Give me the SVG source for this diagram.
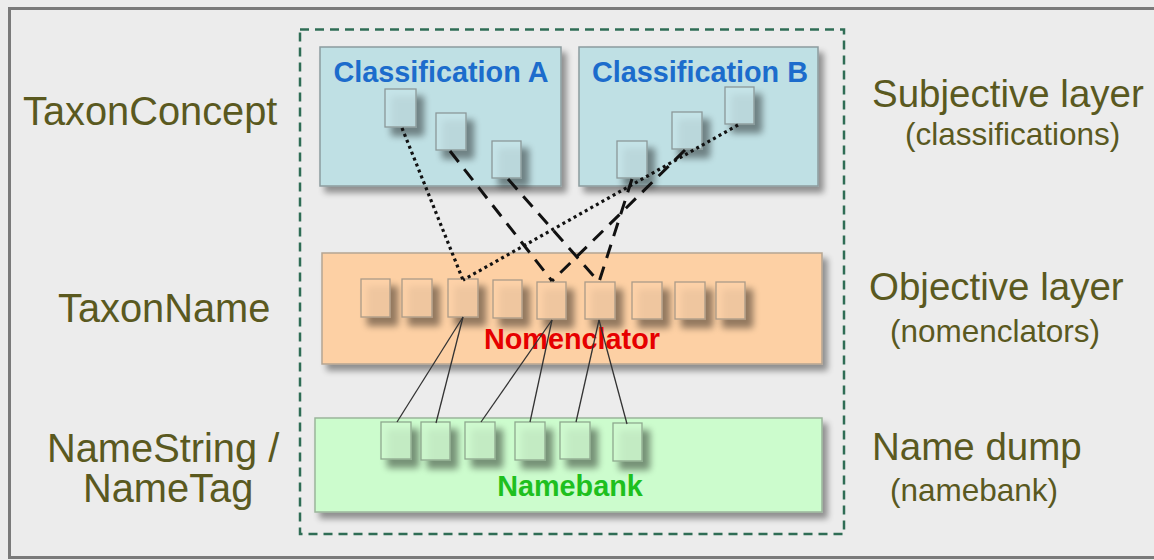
<svg xmlns="http://www.w3.org/2000/svg" width="1154" height="560" viewBox="0 0 1154 560">
<defs>
<style>
.lbl{font-family:"Liberation Sans",Arial,sans-serif;fill:#5a591f;font-size:38.5px}
.lft{font-size:39.8px}
.sub{font-family:"Liberation Sans",Arial,sans-serif;fill:#5a591f;font-size:31.5px}
.ttl{font-family:"Liberation Sans",Arial,sans-serif;font-weight:bold;font-size:28.8px;text-anchor:middle}
.cls{fill:#bfe0e4;stroke:#8c9c9e;stroke-width:1.5}
.nom{fill:#fdd0a4;stroke:#b5a592;stroke-width:1.5}
.nb{fill:#ccfccd;stroke:#9bb59b;stroke-width:1.5}
.sqc{fill:#c8e6ea;fill-opacity:0.7;stroke:#8b9899;stroke-width:1.3}
.sqn{fill:#fdd3aa;fill-opacity:0.7;stroke:#ab9a88;stroke-width:1.3}
.sqb{fill:#d0fad0;fill-opacity:0.7;stroke:#8fa98f;stroke-width:1.3}
.dot{fill:none;stroke:#111;stroke-width:3.2;stroke-dasharray:3 3.4}
.dash{fill:none;stroke:#111;stroke-width:3;stroke-dasharray:14 9}
.thin{fill:none;stroke:#333;stroke-width:1.3}
</style>
<filter id="sh" x="-10%" y="-10%" width="125%" height="135%">
<feGaussianBlur in="SourceAlpha" stdDeviation="3"/>
<feOffset dx="5" dy="6"/>
<feComponentTransfer><feFuncA type="linear" slope="0.4"/></feComponentTransfer>
<feMerge><feMergeNode/><feMergeNode in="SourceGraphic"/></feMerge>
</filter>
<filter id="shs" x="-30%" y="-30%" width="190%" height="180%">
<feGaussianBlur in="SourceAlpha" stdDeviation="3.5"/>
<feOffset dx="7" dy="8"/>
<feComponentTransfer><feFuncA type="linear" slope="0.6"/></feComponentTransfer>
<feMerge><feMergeNode/><feMergeNode in="SourceGraphic"/></feMerge>
</filter>
</defs>
<rect x="0" y="0" width="1154" height="560" fill="#ececec"/>
<rect x="9.5" y="8.5" width="1160" height="549" fill="#ececec" stroke="#7a7a7a" stroke-width="3"/>
<rect x="300" y="29.5" width="544" height="504.5" fill="none" stroke="#2f6d55" stroke-width="2.5" stroke-dasharray="9 6"/>

<g id="label-taxonconcept"><text class="lbl lft" x="23" y="125">TaxonConcept</text></g>
<g id="label-taxonname"><text class="lbl lft" x="58" y="322">TaxonName</text></g>
<g id="label-namestring"><text class="lbl lft" x="47" y="462">NameString /</text><text class="lbl lft" x="83" y="502">NameTag</text></g>
<g id="label-subjective"><text class="lbl" x="872" y="107">Subjective layer</text><text class="sub" x="905" y="145">(classifications)</text></g>
<g id="label-objective"><text class="lbl" x="869" y="300">Objective layer</text><text class="sub" x="890" y="342">(nomenclators)</text></g>
<g id="label-namedump"><text class="lbl" x="872" y="460">Name dump</text><text class="sub" x="890" y="501">(namebank)</text></g>

<g id="classification-a">
<rect class="cls" x="320" y="47" width="241" height="139" filter="url(#sh)"/>
<text class="ttl" x="441" y="82" fill="#1c6ccc">Classification A</text>
<rect class="sqc" x="385" y="89" width="31" height="38" filter="url(#shs)"/>
<rect class="sqc" x="436" y="113" width="30" height="37" filter="url(#shs)"/>
<rect class="sqc" x="492" y="141" width="29" height="37" filter="url(#shs)"/>
</g>
<g id="classification-b">
<rect class="cls" x="579" y="47" width="239" height="139" filter="url(#sh)"/>
<text class="ttl" x="700" y="82" fill="#1c6ccc">Classification B</text>
<rect class="sqc" x="617" y="141" width="30" height="37" filter="url(#shs)"/>
<rect class="sqc" x="672" y="112" width="30" height="37" filter="url(#shs)"/>
<rect class="sqc" x="725" y="87" width="29" height="37" filter="url(#shs)"/>
</g>
<g id="nomenclator">
<rect class="nom" x="322" y="253" width="500" height="111" filter="url(#sh)"/>
<rect class="sqn" x="361" y="279" width="29" height="38" filter="url(#shs)"/>
<rect class="sqn" x="402" y="279" width="30" height="38" filter="url(#shs)"/>
<rect class="sqn" x="448" y="279" width="30" height="38" filter="url(#shs)"/>
<rect class="sqn" x="493" y="280" width="29" height="38" filter="url(#shs)"/>
<rect class="sqn" x="537" y="282" width="29" height="37" filter="url(#shs)"/>
<rect class="sqn" x="585" y="282" width="30" height="37" filter="url(#shs)"/>
<rect class="sqn" x="632" y="282" width="30" height="37" filter="url(#shs)"/>
<rect class="sqn" x="675" y="282" width="30" height="37" filter="url(#shs)"/>
<rect class="sqn" x="716" y="282" width="29" height="37" filter="url(#shs)"/>
<text class="ttl" x="572" y="349" fill="#e60000">Nomenclator</text>
</g>
<g id="namebank">
<rect class="nb" x="315" y="418" width="507" height="94" filter="url(#sh)"/>
<rect class="sqb" x="381" y="422" width="30" height="37" filter="url(#shs)"/>
<rect class="sqb" x="421" y="422" width="29" height="38" filter="url(#shs)"/>
<rect class="sqb" x="465" y="422" width="30" height="37" filter="url(#shs)"/>
<rect class="sqb" x="515" y="422" width="30" height="38" filter="url(#shs)"/>
<rect class="sqb" x="560" y="422" width="30" height="37" filter="url(#shs)"/>
<rect class="sqb" x="613" y="423" width="29" height="38" filter="url(#shs)"/>
<text class="ttl" x="570" y="496" fill="#1ec01e">Namebank</text>
</g>

<g id="connectors">
<line class="dot" x1="402" y1="128" x2="463" y2="280"/>
<line class="dot" x1="738" y1="125" x2="463" y2="280"/>
<line class="dash" x1="450" y1="151" x2="552" y2="281"/>
<line class="dash" x1="508" y1="179" x2="599" y2="282"/>
<line class="dash" x1="685" y1="150" x2="552" y2="281"/>
<line class="dash" x1="632" y1="179" x2="599" y2="282"/>
<line class="thin" x1="463" y1="317" x2="397" y2="422"/>
<line class="thin" x1="463" y1="317" x2="436" y2="423"/>
<line class="thin" x1="552" y1="320" x2="481" y2="422"/>
<line class="thin" x1="552" y1="320" x2="530" y2="422"/>
<line class="thin" x1="599" y1="320" x2="576" y2="422"/>
<line class="thin" x1="599" y1="320" x2="627" y2="424"/>
</g>
</svg>
